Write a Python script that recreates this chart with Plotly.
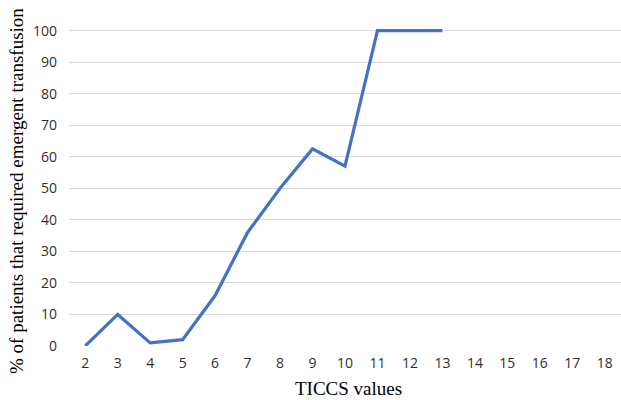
import plotly.graph_objects as go

ticcs = [2, 3, 4, 5, 6, 7, 8, 9, 10, 11, 12, 13]
pct = [0, 10, 1, 2, 16, 36, 50, 62.5, 57, 100, 100, 100]
x_ticks = list(range(2, 19))
y_ticks = list(range(0, 101, 10))
x_title = "TICCS values"
y_title = "% of patients that required emergent transfusion"

fig = go.Figure()
fig.add_trace(go.Scatter(x=ticcs, y=pct, mode="lines",
                         line=dict(color="#4472C4", width=3.2),
                         showlegend=False, hoverinfo="skip"))

title_font = dict(family="Liberation Serif, Times New Roman, serif", size=19, color="#000000")
tick_font = dict(family="Open Sans, Liberation Sans, sans-serif", size=14, color="#303030")

fig.update_layout(
    width=621, height=400,
    margin=dict(l=69, r=0, t=18, b=54),
    paper_bgcolor="white", plot_bgcolor="white",
    xaxis=dict(range=[1.5, 18.5], tickvals=x_ticks, ticktext=[str(v) for v in x_ticks],
               showgrid=False, zeroline=False, showline=False, ticks="", automargin=False,
               ticklabelstandoff=7, tickfont=tick_font),
    yaxis=dict(range=[0, 104], tickvals=y_ticks, showgrid=True, gridcolor="#d9d9d9", gridwidth=1,
               zeroline=False, showline=False, ticks="", ticklabelstandoff=11, automargin=False,
               tickfont=tick_font),
    annotations=[
        dict(text=x_title, xref="paper", yref="paper", x=0.507, y=-0.131,
             xanchor="center", yanchor="middle", showarrow=False, font=title_font),
        dict(text=y_title, xref="paper", yref="paper", x=-0.0942, y=0.4726,
             xanchor="center", yanchor="middle", showarrow=False, textangle=-90, font=title_font),
    ],
)

fig.write_html("out.html", config={"displayModeBar": False},
               post_script="document.body.style.margin='0';")
